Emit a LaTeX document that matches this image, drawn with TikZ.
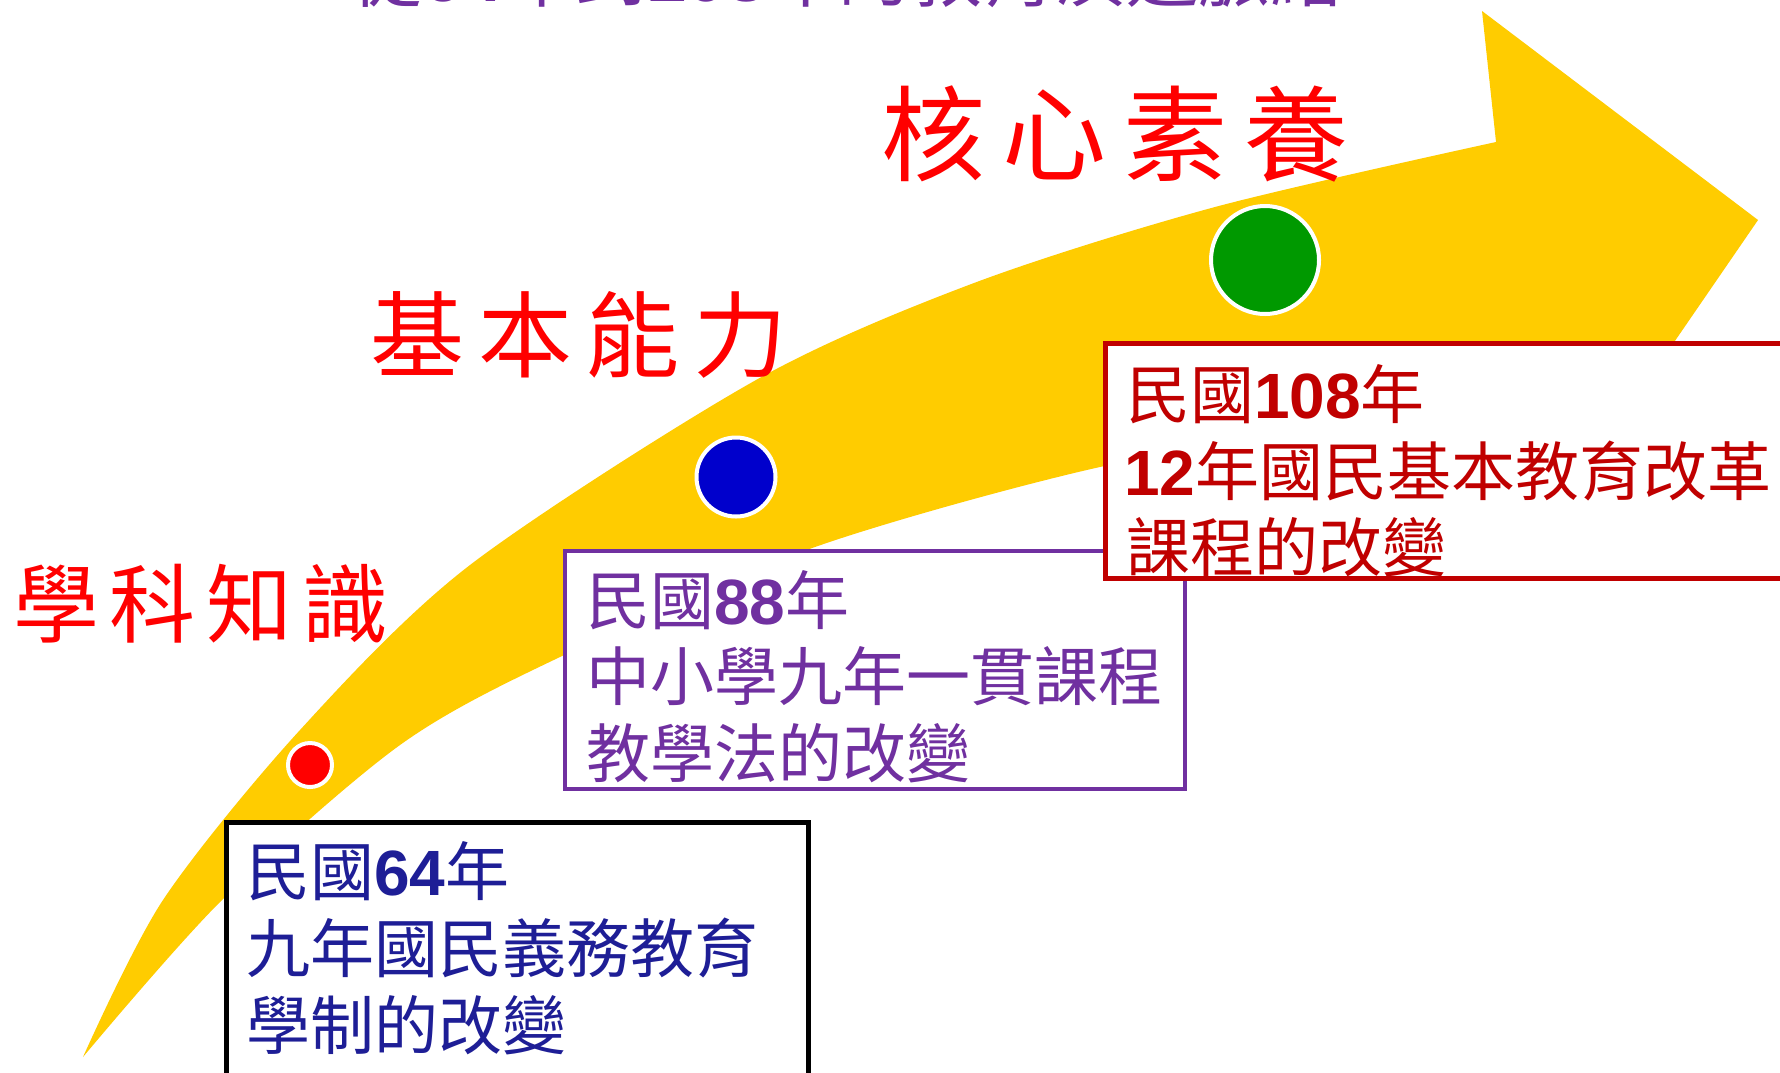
\documentclass[tikz,border=0pt]{standalone}
\usepackage{fontspec}
\newfontfamily\cjk{Noto Sans CJK TC}
\newfontfamily\arialf{Liberation Sans}
\newcommand\numtxt[1]{{\arialf\bfseries #1}}
\definecolor{bandyellow}{HTML}{FFCC00}
\definecolor{titlepurple}{HTML}{7030A0}
\definecolor{boxred}{HTML}{C00000}
\definecolor{navytext}{RGB}{30,30,150}
\definecolor{dotblue}{HTML}{0000CC}
\definecolor{dotgreen}{HTML}{009900}
\tikzset{
  dot/.style={circle, draw=white, line width=2pt, inner sep=0, outer sep=0},
  stagebox/.style={rectangle, fill=white, anchor=north west, inner sep=0, outer sep=0},
  boxline/.style={anchor=base west, inner sep=0, outer sep=0, font=\cjk\fontsize{32}{38}\selectfont},
  keyword/.style={anchor=center, inner sep=0, outer sep=0, text=red}
}
\begin{document}
\begin{tikzpicture}[x=0.5pt,y=-0.5pt]
\useasboundingbox (0,0) rectangle (1780,1072);
\clip (0,0) rectangle (1780,1072);
\fill[white] (0,0) rectangle (1780,1072);

% curved arrow band
\fill[bandyellow] plot[smooth] coordinates {(83,1057) (163,900) (300,730) (470,565) (756,380) (974,283) (1215,207) (1496,142)}
  -- (1482,11) -- (1758,220) -- (1600,450) -- (1470,422)
  -- plot[smooth] coordinates {(1470,422) (1300,440) (1100,467) (815,547) (560,657) (400,745) (222,900) (83,1057)}
  -- cycle;

% dots
\node[dot, fill=red, minimum size=22pt] (d64) at (310,765) {};
\node[dot, fill=dotblue, minimum size=39.5pt] (d88) at (736,477) {};
\node[dot, fill=dotgreen, minimum size=54pt] (d108) at (1265,260) {};

% boxes
\node[stagebox, draw=black, line width=2.5pt, minimum width=291pt, minimum height=150pt] (b64) at (226.5,822.5) {};
\node[stagebox, draw=titlepurple, line width=2pt, minimum width=310pt, minimum height=119pt] (b88) at (565,551) {};
\node[stagebox, draw=boxred, line width=2.5pt, minimum width=347pt, minimum height=117.5pt] (b108) at (1105.5,343.5) {};

% box texts
\node[boxline, text=navytext] (t64a) at (246,895) {民國\numtxt{64}年};
\node[boxline, text=navytext] (t64b) at (246,972) {九年國民義務教育};
\node[boxline, text=navytext] (t64c) at (246,1049) {學制的改變};

\node[boxline, text=titlepurple] (t88a) at (586,624) {民國\numtxt{88}年};
\node[boxline, text=titlepurple] (t88b) at (586,700) {中小學九年一貫課程};
\node[boxline, text=titlepurple] (t88c) at (586,777) {教學法的改變};

\node[boxline, text=boxred] (t108a) at (1126,418) {民國\numtxt{108}年};
\node[boxline, text=boxred] (t108b) at (1124,495) {\numtxt{12}年國民基本教育改革};
\node[boxline, text=boxred] (t108c) at (1126,571) {課程的改變};

% keywords
\node[keyword, font=\cjk\fontsize{43}{46}\selectfont] (k1) at (201,604) {學\kern5.3pt 科\kern5.3pt 知\kern5.3pt 識};
\node[keyword, font=\cjk\fontsize{47}{50}\selectfont] (k2) at (579,335) {基\kern6.8pt 本\kern6.8pt 能\kern6.8pt 力};
\node[keyword, font=\cjk\fontsize{52}{56}\selectfont] (k3) at (1115,134) {核\kern8.5pt 心\kern8.5pt 素\kern8.5pt 養};

% title (mostly cut off at the top edge)
\node[anchor=base west, inner sep=0, text=titlepurple, font=\cjk\fontsize{36}{40}\selectfont] (title) at (350,1) {從\numtxt{64}年到\numtxt{108}年的教育演進脈絡};
\end{tikzpicture}
\end{document}
